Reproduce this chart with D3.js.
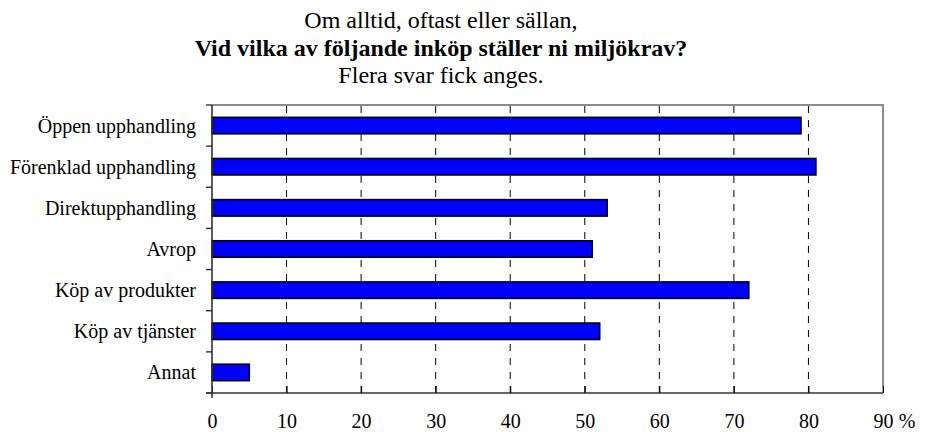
<!DOCTYPE html>
<html>
<head>
<meta charset="utf-8">
<script src="https://cdn.jsdelivr.net/npm/d3@7"></script>
</head>
<body style="margin:0">
<div id="chart"></div>
<script>
// Chart data
var categories = ["Öppen upphandling", "Förenklad upphandling", "Direktupphandling",
                  "Avrop", "Köp av produkter", "Köp av tjänster", "Annat"];
var values = [79, 81, 53, 51, 72, 52, 5];
var xTicks = [0, 10, 20, 30, 40, 50, 60, 70, 80, 90];
var titleLines = ["Om alltid, oftast eller sällan,",
                  "Vid vilka av följande inköp ställer ni miljökrav?",
                  "Flera svar fick anges."];

var width = 925, height = 432;
var plotLeft = 212, plotRight = 883, plotTop = 105, plotBottom = 393;
var fontName = "'Liberation Serif'";

var svg = d3.select("#chart").append("svg")
    .attr("width", width)
    .attr("height", height);

// Scales
var x = d3.scaleLinear().domain([0, 90]).range([plotLeft, plotRight]);
var y = d3.scaleBand().domain(categories).range([plotTop, plotBottom])
    .paddingInner(0.6).paddingOuter(0.3);

// Title, three lines
svg.selectAll(".title")
    .data(titleLines)
  .enter().append("text")
    .attr("class", "title")
    .attr("x", 441)
    .attr("y", (d, i) => 28 + i * 27.5)
    .attr("text-anchor", "middle")
    .style("font-family", fontName)
    .style("font-size", "24px")
    .style("font-weight", (d, i) => i == 1 ? "bold" : "normal")
    .text(d => d);

// Plot frame (gray top and right)
svg.append("path")
    .attr("d", "M" + plotLeft + "," + plotTop + "H" + plotRight + "V" + plotBottom)
    .attr("fill", "none")
    .attr("stroke", "#8c8c8c")
    .attr("stroke-width", 2);

// Dashed gridlines
svg.selectAll(".grid")
    .data(xTicks.filter(d => d > 0 && d < 90))
  .enter().append("line")
    .attr("class", "grid")
    .attr("x1", d => x(d)).attr("x2", d => x(d))
    .attr("y1", plotTop + 1).attr("y2", plotBottom)
    .attr("stroke", "#000")
    .attr("stroke-width", 1)
    .attr("stroke-dasharray", "7,7");

// Bars
svg.selectAll(".bar")
    .data(values)
  .enter().append("rect")
    .attr("class", "bar")
    .attr("x", x(0))
    .attr("y", (d, i) => y(categories[i]))
    .attr("width", d => x(d) - x(0))
    .attr("height", y.bandwidth())
    .attr("fill", "#0000ff")
    .attr("stroke", "#000")
    .attr("stroke-width", 1.6);

// X axis
var xAxis = svg.append("g")
    .attr("transform", "translate(0," + plotBottom + ")")
    .call(d3.axisBottom(x).tickValues(xTicks).tickSizeInner(-7).tickSizeOuter(0));
xAxis.select(".domain")
    .attr("d", "M" + (plotLeft - 6) + ",0H" + plotRight)
    .attr("stroke", "#333").attr("stroke-width", 1.6);
xAxis.selectAll(".tick line").attr("stroke", "#000");
xAxis.selectAll(".tick text")
    .attr("y", 35).attr("dy", 0)
    .style("font-family", fontName)
    .style("font-size", "20px");

svg.append("text")
    .attr("x", 907)
    .attr("y", plotBottom + 35)
    .attr("text-anchor", "middle")
    .style("font-family", fontName)
    .style("font-size", "20px")
    .text("%");

// Y axis: line plus ticks on band boundaries
svg.append("line")
    .attr("x1", plotLeft).attr("x2", plotLeft)
    .attr("y1", plotTop).attr("y2", plotBottom + 5)
    .attr("stroke", "#333").attr("stroke-width", 1.6);

svg.selectAll(".ytick")
    .data(d3.range(categories.length + 1))
  .enter().append("line")
    .attr("class", "ytick")
    .attr("x1", plotLeft - 6).attr("x2", plotLeft)
    .attr("y1", i => plotTop + i * y.step())
    .attr("y2", i => plotTop + i * y.step())
    .attr("stroke", "#333").attr("stroke-width", 1.4);

svg.selectAll(".ylabel")
    .data(categories)
  .enter().append("text")
    .attr("class", "ylabel")
    .attr("x", plotLeft - 16)
    .attr("y", d => y(d) + y.bandwidth() / 2)
    .attr("dy", "0.35em")
    .attr("text-anchor", "end")
    .style("font-family", fontName)
    .style("font-size", "20px")
    .text(d => d);
</script>
</body>
</html>
